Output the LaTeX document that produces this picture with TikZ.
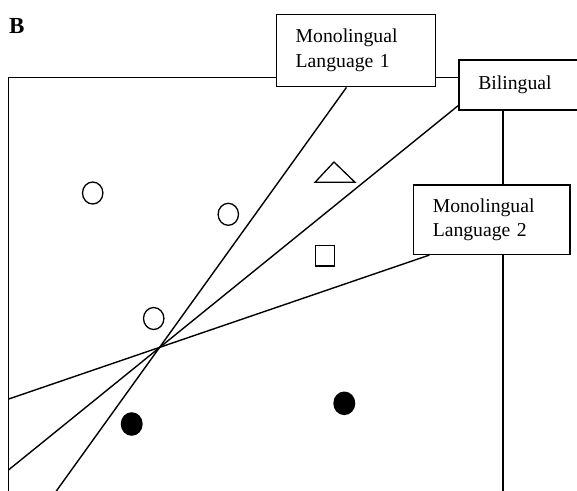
\documentclass[tikz,border=0pt]{standalone}
\usepackage{fontspec}
\setmainfont{Liberation Serif}
\usetikzlibrary{calc,shapes.geometric}
\begin{document}
\begin{tikzpicture}[x=1pt,y=-1pt,
  lbl/.style={draw, line width=1.5pt, rectangle, align=left, inner ysep=0pt},
  ln/.style={line width=1.4pt},
  opencirc/.style={ellipse, draw, line width=1.3pt, minimum width=20.4pt, minimum height=22pt, inner sep=0pt},
  fillcirc/.style={ellipse, fill=black, minimum width=22pt, minimum height=23.6pt, inner sep=0pt},
  marker/.style={line width=1.3pt, line join=miter}]
\useasboundingbox (0,0) rectangle (577,490);

% panel letter
\node[font=\fontsize{23}{23}\selectfont\bfseries, anchor=base west, inner sep=0pt] (lab) at (9,33) {B};

% label boxes
\node[lbl, inner xsep=19pt, minimum width=159pt, minimum height=72.4pt, text width=121pt,
      font=\fontsize{19.7}{25}\selectfont] (ml1) at (356.2,50.5) {Monolingual\\Language 1};
\node[lbl, inner xsep=19.5pt, minimum height=50pt, text width=103pt, anchor=west,
      font=\fontsize{19.7}{25}\selectfont] (bil) at (458,85) {Bilingual};
\node[lbl, inner xsep=19.4pt, minimum width=156.7pt, minimum height=69.3pt, text width=117.9pt,
      font=\fontsize{19.7}{24}\selectfont] (ml2) at (491.7,219.7) {Monolingual\\Language 2};

% frame
\draw[ln] (8.7,492) -- (8.7,77.7) -- (ml1.west |- 0,77.7);
\draw[ln] (ml1.east |- 0,77.7) -- (bil.west |- 0,77.7);
\draw[ln] (bil.south -| 503,0) -- (ml2.north -| 503,0);
\draw[ln] (ml2.south -| 503,0) -- (503,492);

% boundary lines through a common point
\coordinate (x) at (160,347);
\coordinate (e1) at (55.6,492);
\coordinate (e2) at (8.7,469.8);
\coordinate (e3) at (8.7,399);
\draw[ln] ($(ml1.south west)+(70.5,0)$) -- (e1);
\draw[ln] ($(bil.south west)+(0,-5)$) -- (e2);
\draw[ln] ($(ml2.south west)+(16.7,0)$) -- (e3);

% markers
\node[opencirc] (c1) at (92.7,193) {};
\node[opencirc] (c2) at (228.3,214.3) {};
\node[opencirc] (c3) at (153.7,318.5) {};
\node[fillcirc] (d1) at (131.7,424) {};
\node[fillcirc] (d2) at (344.3,403.3) {};
\draw[marker] (334,162) -- (355,182.3) -- (315,182.3) -- cycle;
\draw[marker] (315.6,245.6) rectangle (334.4,266.1);
\end{tikzpicture}
\end{document}
